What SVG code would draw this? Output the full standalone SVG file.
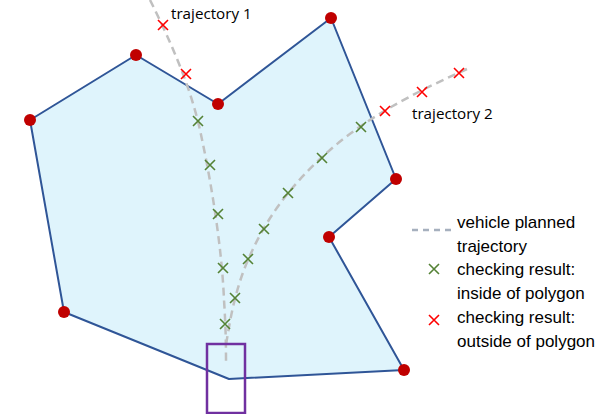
<svg xmlns="http://www.w3.org/2000/svg" width="598" height="414" viewBox="0 0 598 414">
<defs>
<style>
.poly{fill:#dff4fc;stroke:#2f5597;stroke-width:2;stroke-linejoin:round}
.vtx{fill:#c00000}
.traj{fill:none;stroke:#c0c0c0;stroke-width:2.5;stroke-dasharray:8 5}
.in{stroke:#548235;stroke-width:1.6;fill:none}
.out{stroke:#ff0000;stroke-width:1.6;fill:none}
.lbl{font-family:"Open Sans","Liberation Sans",sans-serif;font-size:15.2px;fill:#000}
.leg{font-family:"Liberation Sans",Arial,sans-serif;font-size:17px;fill:#000}
</style>
<path id="xm" d="M-5,-5L5,5M5,-5L-5,5"/>
</defs>
<g id="polygon">
<polygon class="poly" points="30,120 136,55 218,104 331,18 396,179 329,237 404,370 229,379 64,312"/>
<circle class="vtx" cx="30" cy="120" r="6"/>
<circle class="vtx" cx="136" cy="55" r="6"/>
<circle class="vtx" cx="218" cy="104" r="6"/>
<circle class="vtx" cx="331" cy="18" r="6"/>
<circle class="vtx" cx="396" cy="179" r="6"/>
<circle class="vtx" cx="329" cy="237" r="6"/>
<circle class="vtx" cx="404" cy="370" r="6"/>
<circle class="vtx" cx="64" cy="312" r="6"/>
</g>
<g id="connectors">
<path class="traj" d="M150,0 C170,40 190,85 200,130 C212,185 222,250 224,300 C226,330 226,350 226,365"/>
<path class="traj" d="M467,69 C420,90 370,115 330,150 C290,185 265,220 248,260 C235,290 230,320 226,345"/>
</g>
<g id="vehicle">
<rect x="207" y="344" width="38" height="69" fill="none" stroke="#7030a0" stroke-width="2.5"/>
</g>
<g id="checks">
<use href="#xm" class="out" x="163" y="25"/>
<use href="#xm" class="out" x="186" y="74"/>
<use href="#xm" class="in" x="198" y="121"/>
<use href="#xm" class="in" x="210" y="165"/>
<use href="#xm" class="in" x="218" y="214"/>
<use href="#xm" class="in" x="223" y="268"/>
<use href="#xm" class="in" x="225" y="324"/>
<use href="#xm" class="out" x="459" y="73"/>
<use href="#xm" class="out" x="422" y="92"/>
<use href="#xm" class="out" x="385" y="111"/>
<use href="#xm" class="in" x="361" y="127"/>
<use href="#xm" class="in" x="322" y="158"/>
<use href="#xm" class="in" x="288" y="193"/>
<use href="#xm" class="in" x="264" y="229"/>
<use href="#xm" class="in" x="248" y="259"/>
<use href="#xm" class="in" x="235" y="298"/>
</g>
<g id="labels">
<text class="lbl" x="171" y="19">trajectory 1</text>
<text class="lbl" x="412" y="119">trajectory 2</text>
</g>
<g id="legend">
<line x1="412" y1="230" x2="452" y2="230" stroke="#a6b0be" stroke-width="2.5" stroke-dasharray="6 5"/>
<text class="leg" x="457" y="228">vehicle planned</text>
<text class="leg" x="457" y="252">trajectory</text>
<use href="#xm" class="in" x="434" y="269"/>
<text class="leg" x="457" y="275">checking result:</text>
<text class="leg" x="457" y="299">inside of polygon</text>
<use href="#xm" class="out" x="434" y="320"/>
<text class="leg" x="457" y="323">checking result:</text>
<text class="leg" x="457" y="347">outside of polygon</text>
</g>
</svg>
